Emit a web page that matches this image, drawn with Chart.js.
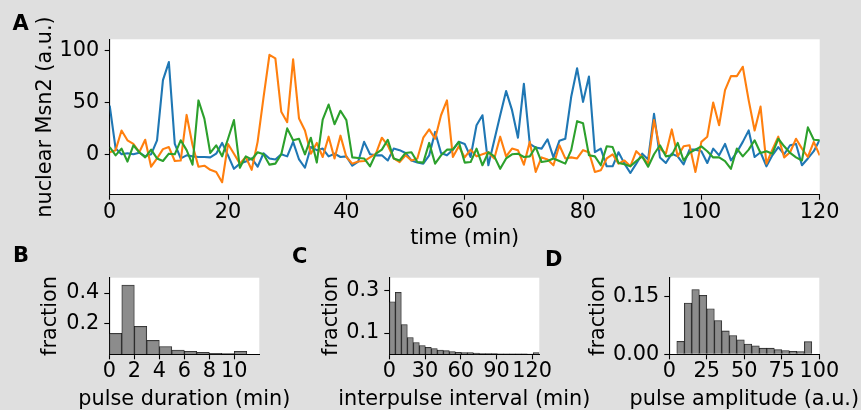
<!DOCTYPE html>
<html><head><meta charset="utf-8">
<script src="https://cdn.jsdelivr.net/npm/chart.js@4"></script>
<style>
html,body{margin:0;padding:0;background:#dfdfdf;}
#wrap{position:relative;width:861px;height:410px;overflow:hidden;background:#dfdfdf;}
canvas{position:absolute;left:0;top:0;}
</style></head><body>
<div id="wrap">
<canvas id="cA" width="861" height="410"></canvas>
<canvas id="cB" width="861" height="410"></canvas>
<canvas id="cC" width="861" height="410"></canvas>
<canvas id="cD" width="861" height="410"></canvas>
</div>
<script>
// ---------- Panel A: time traces ----------
const timeMin = [0,1,2,3,4,5,6,7,8,9,10,11,12,13,14,15,16,17,18,19,20,21,22,23,24,25,26,27,28,29,30,31,32,33,34,35,36,37,38,39,40,41,42,43,44,45,46,47,48,49,50,51,52,53,54,55,56,57,58,59,60,61,62,63,64,65,66,67,68,69,70,71,72,73,74,75,76,77,78,79,80,81,82,83,84,85,86,87,88,89,90,91,92,93,94,95,96,97,98,99,100,101,102,103,104,105,106,107,108,109,110,111,112,113,114,115,116,117,118,119,120];
const msn2Blue = [47,5.5,0,1,0,1.6,-2,0,13.5,71.6,89,10,-4,-1,-2,-2.6,-2.6,-3,0.6,11,-1,-14,-9,-7,-4,-12,1,-4,-5,0,-2,12,-5,-13,7,4,5.5,-2,0.6,-2.6,-2,-11,-7,12,0,-1,-1,-6,5.5,4,1.3,-6,-8,-9,-1,21.6,1.3,-1,4.5,12,10,-2.6,28,37.7,-10.6,13.5,37.7,61,42.6,16,68,10,6.5,5.5,14.5,-3,13,15,55.5,83,50.6,75,2,5.5,-11.6,-11.6,2,-9,-18,-9,0.6,-5,39,-3,-8.4,0.6,-2,-9.7,4.5,4.5,3,-8.4,5.5,-1,10,-6,2,12,23,-2.6,2,-11.6,-1,7,0,8.7,10,-10.6,-4,3,14];
const msn2Orange = [2,4,23,13.5,10,2,14,-12,-4,5,7,-6.5,-6,38,9,-12,-11,-15,-17,-27,10,0.6,-9,-2.6,-15,12,55,96,92.6,41,31,91.6,34.5,23,0.6,11,-2.6,17,-4,18,-2.6,-9,-7,-6.5,-3,0.6,16,8.7,-4,-7.5,-1,-6,-4,16,24,15,37.7,52,-2.6,7.7,-3,4.5,-2,0,2,-4,17,-2,5.5,4,-10,12,-17,-3,-5,-10.6,8.7,-4,-3,-4,4,2,-17,-15.5,-4,0,-9,-6,-11.6,3,-2.6,-9,33,5.5,0.6,24,-2,7.7,8.7,-17,12,17,50,28,62,75.5,75.5,84.5,52,23,46,-9,4.5,17,-3,2,15,5.5,-2.6,12,-1];
const msn2Green = [7,-1,5.5,-7,8.7,2,-3,4.5,-4,-6.5,0.6,0,13.5,4,-10,52,34.5,1.3,8.7,-2,15,33,-13,-2,-5,2,0,-10,-9,0,25,13.5,15,0,16,-8,33.5,48,29,42,33,-3,-3.5,-4,-11.6,0.6,4.5,14,-4,-6,1.3,2,-7.5,-8,11,-9,-1,4.5,4.5,12,-8,-7.5,5.5,-10.6,2,-2,-14,-4,0,0.6,-2.6,-2,7,-7.5,-6.5,-4,-6.5,-9,4,32,30,-1,-2,-10.6,7.7,7,-8.4,-9.7,-11.6,-6.5,-2,-12,0,8.7,-2,-1,11,-6,1.3,4.5,7.7,3,-3,-3,-6.5,-14,5.5,-2,4.5,13.5,1.3,3,0.6,15,7.7,1.3,-3,-6,26,14,13.5];
const timeTicks = [0,20,40,60,80,100,120];
const msn2Ticks = [0,50,100];

// ---------- Panel B: pulse duration histogram ----------
const durationBins = [0.5,1.5,2.5,3.5,4.5,5.5,6.5,7.5,8.5,9.5,10.5];
const durationFrac = [0.137,0.452,0.183,0.091,0.05,0.028,0.02,0.013,0.0065,0.004,0.02];
const durationTicks = [0,2,4,6,8,10];
const durationYTicks = [0.2,0.4];

// ---------- Panel C: interpulse interval histogram ----------
const intervalBins = [2.52,7.56,12.6,17.64,22.68,27.72,32.76,37.8,42.84,47.88,52.92,57.96,63,68.04,73.08,78.12,83.16,88.2,93.24,98.28,103.32,108.36,113.4,118.44,123.48];
const intervalFrac = [0.247,0.291,0.14,0.079,0.055,0.041,0.033,0.027,0.02,0.017,0.013,0.009,0.008,0.008,0.006,0.003,0.003,0.003,0.002,0.002,0.002,0.002,0.002,0.001,0.008];
const intervalTicks = [0,30,60,90,120];
const intervalYTicks = [0.1,0.3];

// ---------- Panel D: pulse amplitude histogram ----------
const amplitudeBins = [7.5,12.5,17.5,22.5,27.5,32.5,37.5,42.5,47.5,52.5,57.5,62.5,67.5,72.5,77.5,82.5,87.5,92.5];
const amplitudeFrac = [0.034,0.134,0.169,0.154,0.119,0.088,0.061,0.049,0.038,0.027,0.022,0.016,0.016,0.012,0.010,0.008,0.007,0.033];
const amplitudeTicks = [0,25,50,75,100];
const amplitudeYTicks = [0,0.15];

const panelLetters = ['A','B','C','D'];

// ---------- rendering ----------
const FS = 20.8;
const FAMILY = '"DejaVu Sans", sans-serif';
Chart.defaults.font.family = FAMILY;
Chart.defaults.font.size = FS;
Chart.defaults.color = '#000';

const whiteArea = {
  id: 'whiteArea',
  beforeDraw(c) {
    const {ctx, chartArea: a} = c;
    ctx.save(); ctx.fillStyle = '#ffffff';
    ctx.fillRect(a.left, a.top, a.right - a.left, a.bottom - a.top);
    ctx.restore();
  }
};

const letterPos = [[12.5, 30], [13, 262], [292, 263], [545, 266]];
const lettersPlugin = {
  id: 'letters',
  afterDraw(c) {
    const ctx = c.ctx;
    ctx.save();
    ctx.font = 'bold 21px ' + FAMILY;
    ctx.fillStyle = '#000';
    ctx.textBaseline = 'alphabetic';
    ctx.textAlign = 'left';
    panelLetters.forEach((L, i) => ctx.fillText(L, letterPos[i][0], letterPos[i][1]));
    ctx.restore();
  }
};

// x-axis title drawn without width limit (Chart.js would squeeze it to the axis width)
function xTitlePlugin(text, yCenter) {
  return {
    id: 'xTitle',
    afterDraw(c) {
      const {ctx, chartArea: a} = c;
      ctx.save();
      ctx.font = FS + 'px ' + FAMILY;
      ctx.fillStyle = '#000';
      ctx.textAlign = 'center';
      ctx.textBaseline = 'middle';
      ctx.fillText(text, (a.left + a.right) / 2, yCenter);
      ctx.restore();
    }
  };
}

function mkScale(cfg) {
  const isY = cfg.pos === 'left';
  return {
    type: 'linear', position: cfg.pos, min: cfg.min, max: cfg.max, offset: false,
    grid: {display: true, drawOnChartArea: false, drawTicks: true, tickLength: 5, tickWidth: 1.1, tickColor: '#000', offset: false},
    border: {display: true, color: '#000', width: 1.1},
    ticks: {autoSkip: false, maxRotation: 0, minRotation: 0, padding: cfg.pad, color: '#000',
            font: {size: FS}, callback: cfg.fmt || (v => String(v))},
    title: {display: !!cfg.title, text: cfg.title || '', color: '#000', font: {size: FS},
            padding: isY ? {top: cfg.titlePad, bottom: 0} : {top: 0, bottom: cfg.titlePad}},
    afterBuildTicks: s => { s.ticks = cfg.ticks.map(v => ({value: v})); },
    afterFit: s => { if (isY) s.width = cfg.size; else s.height = cfg.size; }
  };
}

const baseOpts = {
  responsive: false, animation: false, devicePixelRatio: 1,
  plugins: {legend: {display: false}, tooltip: {enabled: false}, title: {display: false}}
};

// Panel A
new Chart(document.getElementById('cA'), {
  type: 'line',
  data: {datasets: [
    {data: timeMin.map((t, i) => ({x: t, y: msn2Blue[i]})), borderColor: '#1f77b4', order: 3},
    {data: timeMin.map((t, i) => ({x: t, y: msn2Orange[i]})), borderColor: '#ff7f0e', order: 2},
    {data: timeMin.map((t, i) => ({x: t, y: msn2Green[i]})), borderColor: '#2ca02c', order: 1}
  ]},
  options: Object.assign({}, baseOpts, {
    layout: {padding: {left: 0, top: 39.3, right: 41.3, bottom: 160}},
    elements: {point: {radius: 0}, line: {borderWidth: 2.1, tension: 0, borderJoinStyle: 'round', fill: false}},
    scales: {
      x: mkScale({pos: 'bottom', min: 0, max: 120, ticks: timeTicks, pad: 0.3, size: 55.3, title: 'time (min)', titlePad: -1}),
      y: mkScale({pos: 'left', min: -39, max: 111, ticks: msn2Ticks, pad: 5.4, size: 109.7, title: 'nuclear Msn2 (a.u.)', titlePad: 33.3})
    }
  }),
  plugins: [whiteArea, lettersPlugin]
});

function histChart(id, bins, vals, pad, xcfg, ycfg, xTitle) {
  new Chart(document.getElementById(id), {
    type: 'bar',
    data: {datasets: [{
      data: bins.map((b, i) => ({x: b, y: vals[i]})),
      backgroundColor: 'rgba(128,128,128,0.9)', borderColor: 'rgba(0,0,0,0.85)', borderWidth: 0.8,
      barPercentage: 1, categoryPercentage: 1
    }]},
    options: Object.assign({}, baseOpts, {
      layout: {padding: pad},
      scales: {x: mkScale(xcfg), y: mkScale(ycfg)}
    }),
    plugins: [whiteArea, xTitlePlugin(xTitle, 399.3)]
  });
}

histChart('cB', durationBins, durationFrac, {left: 0, top: 277.7, right: 601.7, bottom: 0},
  {pos: 'bottom', min: 0, max: 12, ticks: durationTicks, pad: 0, size: 55.7},
  {pos: 'left', min: 0, max: 0.5, ticks: durationYTicks, pad: 5, size: 109.3, title: 'fraction', titlePad: 38.5, fmt: v => v.toFixed(1)},
  'pulse duration (min)');

histChart('cC', intervalBins, intervalFrac, {left: 289.3, top: 277.7, right: 321.7, bottom: 0},
  {pos: 'bottom', min: 0, max: 126, ticks: intervalTicks, pad: 0, size: 55.7},
  {pos: 'left', min: 0, max: 0.36, ticks: intervalYTicks, pad: 5, size: 100, title: 'fraction', titlePad: 29.9, fmt: v => v.toFixed(1)},
  'interpulse interval (min)');

histChart('cD', amplitudeBins, amplitudeFrac, {left: 569.3, top: 277.7, right: 41.7, bottom: 0},
  {pos: 'bottom', min: 0, max: 100, ticks: amplitudeTicks, pad: 0, size: 55.7},
  {pos: 'left', min: 0, max: 0.2, ticks: amplitudeYTicks, pad: 5, size: 100, title: 'fraction', titlePad: 16.5, fmt: v => v.toFixed(2)},
  'pulse amplitude (a.u.)');
</script>
</body></html>
